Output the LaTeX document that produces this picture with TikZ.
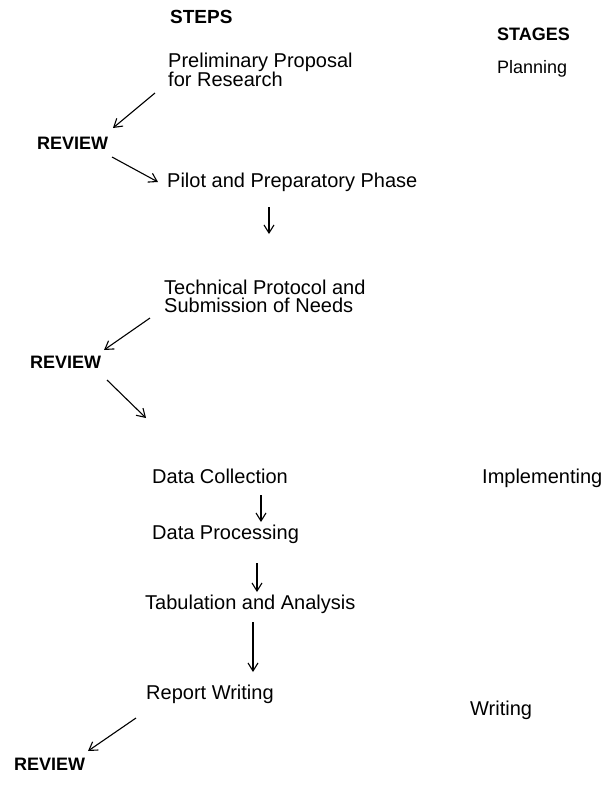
\documentclass[tikz,border=0pt]{standalone}
\usepackage{fontspec}
\setmainfont{Liberation Sans}
\usetikzlibrary{arrows.meta,calc}
\begin{document}
\begin{tikzpicture}[x=1pt,y=-1pt,
  steptext/.style={font=\fontsize{20}{18}\selectfont, anchor=west, inner sep=0pt, align=left},
  headtext/.style={font=\fontsize{18}{18}\selectfont\bfseries, anchor=west, inner sep=0pt},
  stagetext/.style={font=\fontsize{#1}{#1}\selectfont, anchor=west, inner sep=0pt},
  stagetext/.default=20,
  arr/.style={-{Straight Barb[length=8pt,width=10pt]}, line width=1.1pt}]
\useasboundingbox[fill=white] (0,0) rectangle (605,785);

% headings
\node[headtext, font=\fontsize{19}{19}\selectfont\bfseries] (steps) at (170,17) {STEPS};
\node[headtext] (stages) at (497,34) {STAGES};

% steps
\node[steptext] (prelim) at (168,70) {Preliminary Proposal\\for Research};
\node[headtext] (rev1) at (37,143) {REVIEW};
\node[steptext] (pilot) at (167,182) {Pilot and Preparatory Phase};
\node[steptext] (tech) at (164,296) {Technical Protocol and\\Submission of Needs};
\node[headtext] (rev2) at (30,362) {REVIEW};
\node[steptext] (dcol) at (152,476) {Data Collection};
\node[steptext] (dproc) at (152,534) {Data Processing};
\node[steptext] (tab) at (145,604) {Tabulation and Analysis};
\node[steptext] (rep) at (146,694) {Report Writing};
\node[headtext] (rev3) at (14,764) {REVIEW};

% stages
\node[stagetext=18] (planning) at (497,69) {Planning};
\node[stagetext=20] (impl) at (482,478) {Implementing};
\node[stagetext=20] (writing) at (470,710) {Writing};

% connectors
\draw[arr] ($(prelim.west)+(-13,23)$) -- ($(rev1.west)+(76,-15)$);
\draw[arr] ($(rev1.west)+(75,14)$) -- ($(pilot.west)+(-9,0)$);
\draw[arr] ($(pilot.west)+(102,25)$) -- ($(tech.west)+(105,-62)$);
\draw[arr] ($(tech.west)+(-14,22)$) -- ($(rev2.west)+(74,-12)$);
\draw[arr] ($(rev2.west)+(77,18)$) -- ($(dcol.west)+(-6,-58)$);
\draw[arr] ($(dcol.west)+(109,19)$) -- ($(dproc.west)+(109,-12)$);
\draw[arr] ($(dproc.west)+(105,29)$) -- ($(tab.west)+(112,-12)$);
\draw[arr] ($(tab.west)+(108,18)$) -- ($(rep.west)+(107,-22)$);
\draw[arr] ($(rep.west)+(-10,24)$) -- ($(rev3.west)+(74,-13)$);
\end{tikzpicture}
\end{document}
